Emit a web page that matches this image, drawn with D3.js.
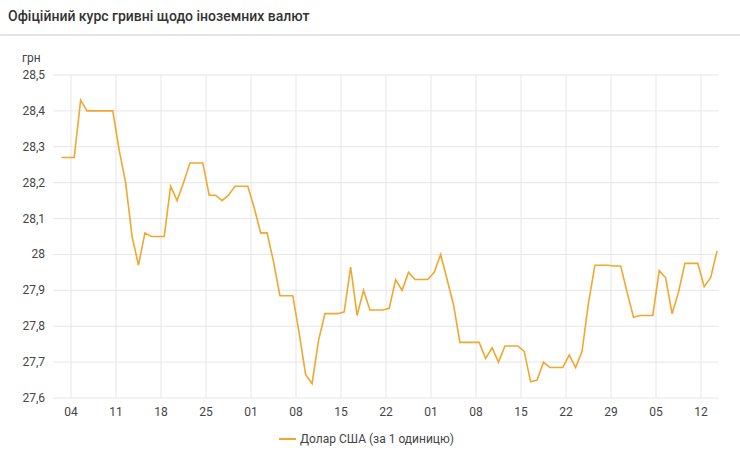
<!DOCTYPE html>
<html><head><meta charset="utf-8">
<script src="https://cdn.jsdelivr.net/npm/d3@7"></script>
<style>body{margin:0;background:#fff;font-family:Roboto,sans-serif}</style>
</head><body><svg id="c" width="740" height="452"></svg>
<script>
const title = "Офіційний курс гривні щодо іноземних валют";
const unitLabel = "грн";
const seriesName = "Долар США (за 1 одиницю)";
const startDate = "2021-01-02";
const usdValues = [28.27,28.27,28.27,28.43,28.40,28.40,28.40,28.40,28.40,28.29,28.20,28.05,27.97,28.06,28.05,28.05,28.05,28.19,28.15,28.20,28.255,28.255,28.255,28.165,28.165,28.15,28.165,28.19,28.19,28.19,28.13,28.06,28.06,27.98,27.885,27.885,27.885,27.78,27.665,27.64,27.76,27.835,27.835,27.835,27.84,27.965,27.83,27.90,27.845,27.845,27.845,27.85,27.93,27.90,27.95,27.93,27.93,27.93,27.95,28.0,27.93,27.86,27.755,27.755,27.755,27.755,27.71,27.74,27.70,27.745,27.745,27.745,27.73,27.645,27.65,27.70,27.685,27.685,27.685,27.72,27.685,27.73,27.865,27.97,27.97,27.97,27.968,27.968,27.895,27.825,27.83,27.83,27.83,27.955,27.935,27.835,27.895,27.975,27.975,27.975,27.91,27.935,28.01];
const yTicks = [27.6,27.7,27.8,27.9,28.0,28.1,28.2,28.3,28.4,28.5];
const xTickDates = ["2021-01-04","2021-01-11","2021-01-18","2021-01-25","2021-02-01","2021-02-08","2021-02-15","2021-02-22","2021-03-01","2021-03-08","2021-03-15","2021-03-22","2021-03-29","2021-04-05","2021-04-12"];

const svg = d3.select("#c");
const color = "#f2a72e";
const parse = d3.timeParse("%Y-%m-%d");
const s0 = parse(startDate);
const data = usdValues.map((v,i)=>({d:d3.timeHour.offset(d3.timeDay.offset(s0,i),12), v}));
const ticks = xTickDates.map(parse);
const x = d3.scaleTime().domain([ticks[0], ticks[ticks.length-1]]).range([71,701]);
const y = d3.scaleLinear().domain([27.6,28.5]).range([398,75]);

svg.append("text").attr("x",8).attr("y",21).attr("font-size",14).attr("font-weight",500).attr("fill","#333").text(title);
svg.append("rect").attr("x",0).attr("y",34).attr("width",740).attr("height",2).attr("fill","#e4e4e4");

const g = svg.append("g");
g.selectAll(".hg").data(yTicks).join("line").attr("x1",53).attr("x2",719)
 .attr("y1",d=>y(d)).attr("y2",d=>y(d)).attr("stroke","#e6e6e6");
g.selectAll(".vg").data(ticks).join("line").attr("y1",75).attr("y2",398)
 .attr("x1",d=>x(d)).attr("x2",d=>x(d)).attr("stroke","#e6e6e6");
const fmt = d => d===28 ? "28" : d3.format(".1f")(d).replace(".",",");
g.selectAll(".yl").data(yTicks).join("text").attr("x",45).attr("y",d=>y(d)+4)
 .attr("text-anchor","end").attr("font-size",12).attr("fill","#444").text(fmt);
g.selectAll(".xl").data(ticks).join("text").attr("x",d=>x(d)).attr("y",416)
 .attr("text-anchor","middle").attr("font-size",12).attr("fill","#444").text(d3.timeFormat("%d"));
svg.append("text").attr("x",22).attr("y",62).attr("font-size",12).attr("fill","#444").text(unitLabel);

svg.append("path").datum(data).attr("fill","none").attr("stroke",color).attr("stroke-width",1.6)
 .attr("d", d3.line().x(d=>x(d.d)).y(d=>y(d.v)));

svg.append("line").attr("x1",279).attr("x2",296).attr("y1",439).attr("y2",439).attr("stroke",color).attr("stroke-width",2);
svg.append("text").attr("x",300).attr("y",443).attr("font-size",12).attr("fill","#444").text(seriesName);
</script></body></html>
